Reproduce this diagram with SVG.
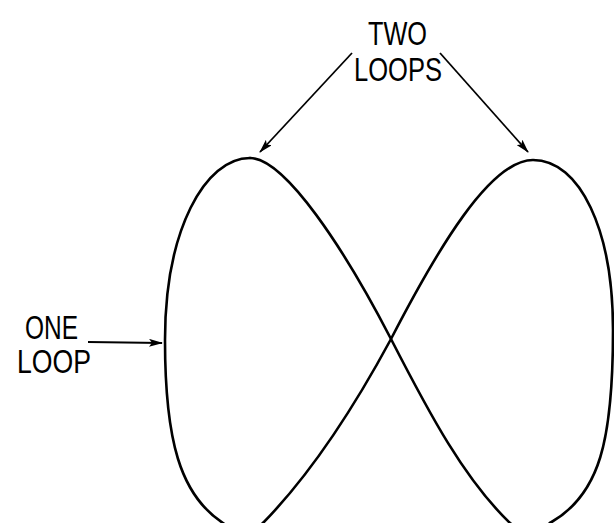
<svg xmlns="http://www.w3.org/2000/svg" width="614" height="523" viewBox="0 0 614 523">
  <style>
    .curve { fill: none; stroke: #000; stroke-width: 2.6; stroke-linecap: round; stroke-linejoin: round; }
    .arrow { fill: none; stroke: #000; stroke-width: 1.8; }
    .label { font-family: "Liberation Sans", Arial, sans-serif; font-size: 33px; fill: #000; }
  </style>
  <defs>
    <marker id="head" viewBox="0 0 14 8" refX="13" refY="4" markerWidth="14" markerHeight="8" markerUnits="userSpaceOnUse" orient="auto">
      <path d="M0,0 L14,4 L0,8 L3,4 Z" fill="#000"/>
    </marker>
  </defs>
  <rect width="614" height="523" fill="#fff"/>

  <!-- crossed figure-eight -->
  <g id="figure-eight">
    <!-- left lobe, crossing down to the lower right -->
    <path class="curve" d="M250,158 C205,158 165,230 165,340 C165,440 180,495 223,523 C235,533 250,535 263,523"/>
    <path class="curve" d="M250,158 C285,158 345,250 391,339 C430,415 465,480 510,523 C522,533 538,535 550,523"/>
    <!-- right lobe, crossing down to the lower left -->
    <path class="curve" d="M263,523 C305,480 350,415 391,339 C437,250 490,160 533,160 C580,160 613,230 613,330 C613,440 600,495 550,523"/>
  </g>

  <g id="label-two-loops">
    <text class="label" x="368" y="45" textLength="59" lengthAdjust="spacingAndGlyphs">TWO</text>
    <text class="label" x="354" y="81" textLength="88" lengthAdjust="spacingAndGlyphs">LOOPS</text>
  </g>

  <g id="label-one-loop">
    <text class="label" x="25" y="339" textLength="53" lengthAdjust="spacingAndGlyphs">ONE</text>
    <text class="label" x="17" y="373" textLength="74" lengthAdjust="spacingAndGlyphs">LOOP</text>
  </g>

  <g id="connectors">
    <line class="arrow" x1="352" y1="53" x2="260" y2="152" marker-end="url(#head)"/>
    <line class="arrow" x1="440" y1="53" x2="528" y2="152" marker-end="url(#head)"/>
    <line class="arrow" x1="88" y1="342" x2="162" y2="343" marker-end="url(#head)"/>
  </g>
</svg>
